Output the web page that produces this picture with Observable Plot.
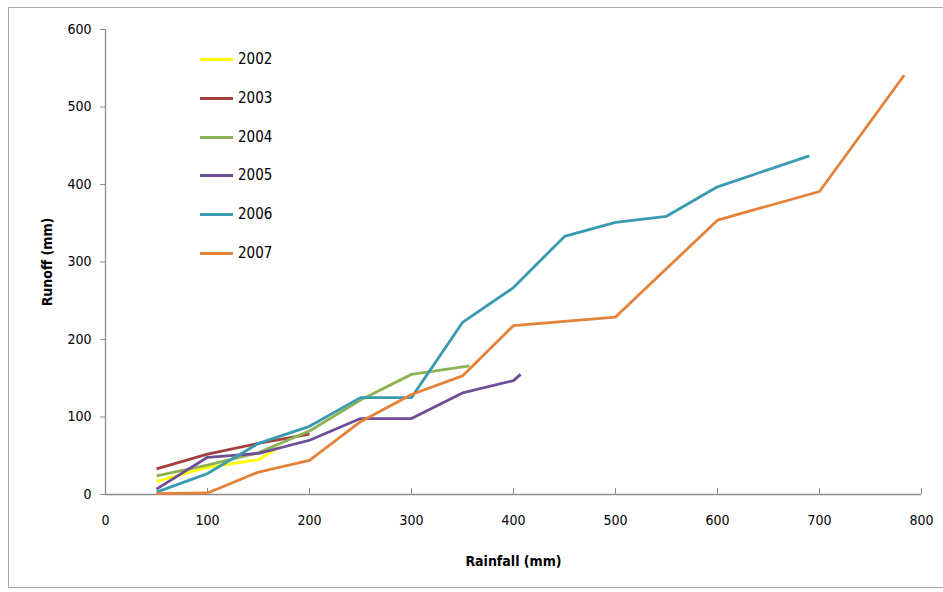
<!DOCTYPE html>
<html>
<head>
<meta charset="utf-8">
<script src="https://cdn.jsdelivr.net/npm/d3@7"></script>
<script src="https://cdn.jsdelivr.net/npm/@observablehq/plot@0.6"></script>
<style>
  html, body { margin: 0; padding: 0; background: #fff; }
  #wrap { position: relative; width: 943px; height: 592px; overflow: hidden; font-family: "DejaVu Sans Condensed", "Liberation Sans Narrow", Roboto, sans-serif; font-stretch: condensed; }
  #border { position: absolute; left: 8px; top: 7px; width: 960px; height: 581px; border: 1px solid #a6a6a6; box-sizing: border-box; }
  #chart { position: absolute; left: 0; top: 0; }
  #chart svg { overflow: visible; font-stretch: condensed; }
  g[aria-label="x-axis label"] text, g[aria-label="y-axis label"] text { font-weight: bold; font-size: 14px; }
  #legend { position: absolute; left: 200px; top: 0; }
  .item { position: absolute; left: 0; height: 20px; width: 80px; }
  .swatch { position: absolute; left: 0; top: 9px; width: 33px; height: 3px; }
  .lab { position: absolute; left: 38px; top: 0px; font-size: 15px; color: #000; line-height: 20px; }
</style>
</head>
<body>
<div id="wrap">
  <div id="border"></div>
  <div id="chart"></div>
  <div id="legend"></div>
</div>
<script>
const years = ["2002", "2003", "2004", "2005", "2006", "2007"];
const colors = ["#FFFF00", "#A2403D", "#8DB255", "#6E4E96", "#3A9AB1", "#E5823A"];

const rain2002 = [50, 100, 150, 170];
const runoff2002 = [17, 35, 45, 61];
const rain2003 = [50, 100, 150, 200];
const runoff2003 = [33, 52, 66, 78];
const rain2004 = [50, 100, 150, 200, 250, 300, 357];
const runoff2004 = [24, 38, 54, 82, 122, 155, 166];
const rain2005 = [50, 100, 150, 200, 250, 300, 350, 400, 407];
const runoff2005 = [7, 48, 53, 70, 98, 98, 131, 147, 155];
const rain2006 = [50, 100, 150, 200, 250, 300, 350, 400, 450, 500, 550, 600, 690];
const runoff2006 = [3, 27, 66, 88, 125, 125, 222, 267, 333, 351, 359, 397, 437];
const rain2007 = [50, 100, 150, 200, 250, 300, 350, 400, 500, 600, 700, 783];
const runoff2007 = [1, 2, 29, 44, 94, 129, 153, 218, 229, 354, 391, 541];

const xTicks = [0, 100, 200, 300, 400, 500, 600, 700, 800];
const yTicks = [0, 100, 200, 300, 400, 500, 600];

const series = [
  [rain2002, runoff2002], [rain2003, runoff2003], [rain2004, runoff2004],
  [rain2005, runoff2005], [rain2006, runoff2006], [rain2007, runoff2007]
];
const data = [];
series.forEach(([xs, ys], i) => xs.forEach((x, j) => data.push({year: years[i], rain: x, runoff: ys[j]})));

const W = 943, H = 592;
const mTop = 29, mBottom = 98, mLeft = 105, mRight = 22;
const innerH = H - mTop - mBottom;
const axisColor = "#8c8c8c";

const chart = Plot.plot({
  width: W, height: H,
  marginTop: mTop, marginBottom: mBottom, marginLeft: mLeft, marginRight: mRight,
  style: { fontFamily: "'DejaVu Sans Condensed', 'Liberation Sans Narrow', Roboto, sans-serif", fontSize: "14px", background: "transparent", color: "#000" },
  x: { domain: [0, 800], ticks: xTicks, tickSize: 0, tickPadding: 21, label: "Rainfall (mm)", labelAnchor: "center", labelOffset: 71, labelArrow: "none" },
  y: { domain: [0, 600], ticks: yTicks, tickSize: 5, tickPadding: 9, label: "Runoff (mm)", labelAnchor: "center", labelOffset: 63, labelArrow: "none" },
  color: { domain: years, range: colors },
  marks: [
    Plot.ruleX(xTicks.slice(1), { x: d => d, insetTop: innerH - 6, stroke: axisColor, strokeWidth: 1 }),
    Plot.ruleY([0], { stroke: axisColor, strokeWidth: 1.3 }),
    Plot.ruleX([0], { stroke: axisColor, strokeWidth: 1.3 }),
    Plot.line(data, { x: "rain", y: "runoff", z: "year", stroke: "year", strokeWidth: 2.8, strokeLinejoin: "round", strokeLinecap: "butt" })
  ]
});
chart.querySelectorAll('g[aria-label="y-axis tick"]').forEach(e => e.setAttribute("stroke", axisColor));
chart.querySelectorAll('g[aria-label="x-axis label"] text, g[aria-label="y-axis label"] text').forEach(t => {
  t.textContent = t.textContent.replace(/[\u2190-\u2193]/g, "").trim();
});
document.getElementById("chart").appendChild(chart);

const legend = document.getElementById("legend");
const rowTops = 49, rowStep = 38.8;
years.forEach((y, i) => {
  const item = document.createElement("div");
  item.className = "item";
  item.style.top = (rowTops + i * rowStep) + "px";
  item.innerHTML = `<div class="swatch" style="background:${colors[i]}"></div><div class="lab">${y}</div>`;
  legend.appendChild(item);
});
</script>
</body>
</html>
